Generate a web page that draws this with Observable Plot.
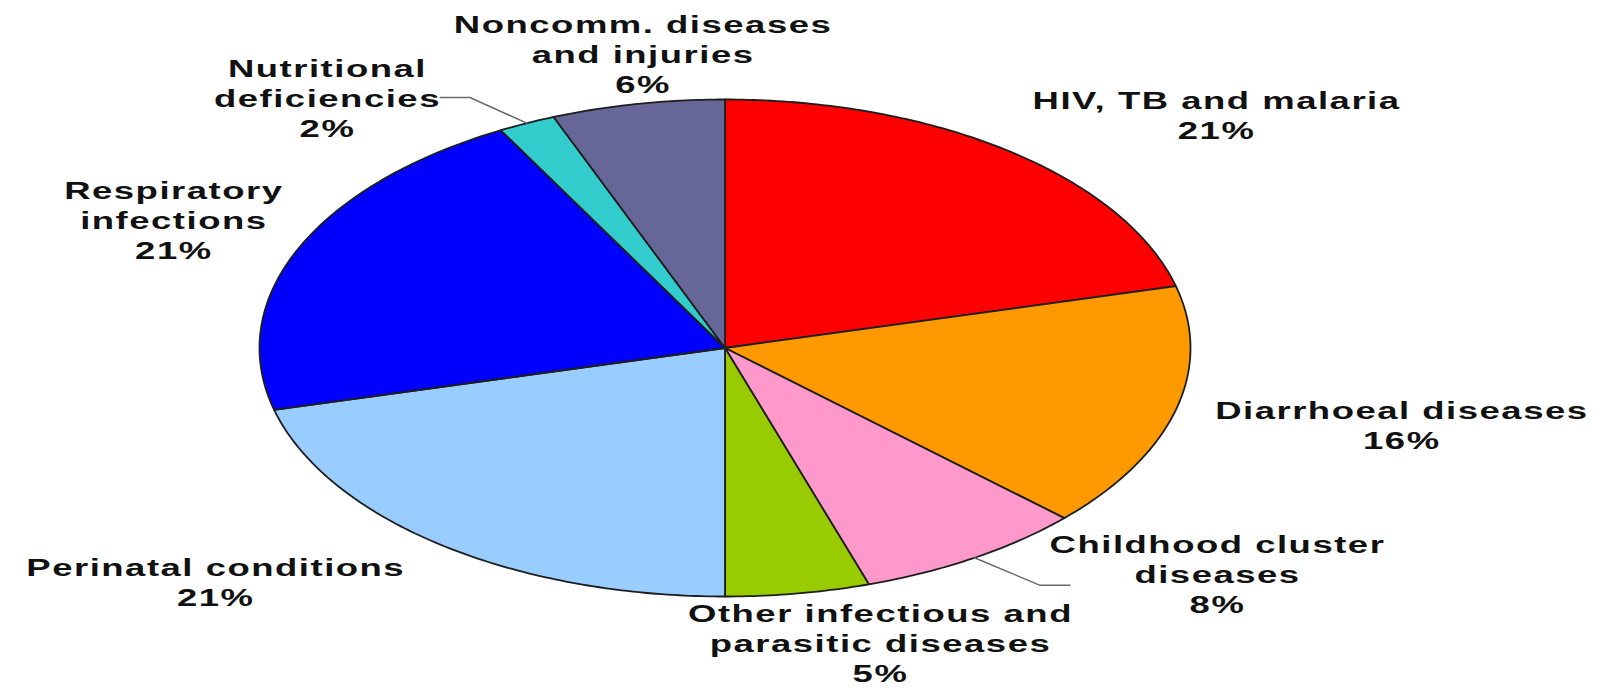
<!DOCTYPE html>
<html>
<head>
<meta charset="utf-8">
<script src="https://cdn.jsdelivr.net/npm/d3@7"></script>
<script src="https://cdn.jsdelivr.net/npm/@observablehq/plot@0.6"></script>
<style>
  html, body { margin: 0; padding: 0; background: #fff; }
  #chart text { letter-spacing: 1px; }
</style>
</head>
<body>
<div id="chart"></div>
<script>
// ---- data ----
const categories = [
  "HIV, TB and malaria",
  "Diarrhoeal diseases",
  "Childhood cluster\ndiseases",
  "Other infectious and\nparasitic diseases",
  "Perinatal conditions",
  "Respiratory\ninfections",
  "Nutritional\ndeficiencies",
  "Noncomm. diseases\nand injuries"
];
const values = [21, 16, 8, 5, 21, 21, 2, 6];
const colors = ["#ff0000", "#ff9900", "#ff99cc", "#99cc00", "#99ccff", "#0000ff", "#33cccc", "#666699"];

// ---- layout (label anchors in pie-unit coordinates) ----
const labelX = [1.056, 1.454, 1.058, 0.334, -1.094, -1.184, -0.854, -0.176];
const labelY = [0.939, -0.308, -0.907, -1.186, -0.939, 0.518, 1.008, 1.186];
// leader line elbows for the small slices (index -> two points)
const leaders = {
  6: [[-0.548, 1.008], [-0.612, 1.008]],
  2: [[0.677, -0.955], [0.741, -0.955]]
};

const arcs = d3.pie().sort(null).value(d => d)(values);

const slicePts = [];
arcs.forEach((a, i) => {
  slicePts.push({x: 0, y: 0, k: i, color: colors[i]});
  const n = Math.max(8, Math.ceil((a.endAngle - a.startAngle) * 80));
  for (let j = 0; j <= n; j++) {
    const t = a.startAngle + (a.endAngle - a.startAngle) * j / n;
    slicePts.push({x: Math.sin(t), y: Math.cos(t), k: i, color: colors[i]});
  }
});

const labels = categories.map((c, i) => ({
  text: c + "\n" + values[i] + "%",
  x: labelX[i], y: labelY[i]
}));

const leaderPts = [];
Object.entries(leaders).forEach(([i, pts]) => {
  const a = arcs[+i];
  const m = (a.startAngle + a.endAngle) / 2;
  leaderPts.push({x: Math.sin(m), y: Math.cos(m), k: i});
  pts.forEach(p => leaderPts.push({x: p[0], y: p[1], k: i}));
});

const chart = Plot.plot({
  width: 1605,
  height: 691,
  margin: 0,
  x: {domain: [-1, 1], range: [259, 1190], axis: null},
  y: {domain: [-1, 1], range: [596, 99], axis: null},
  color: {type: "identity"},
  marks: [
    Plot.line(slicePts, {
      x: "x", y: "y", z: "k", fill: "color",
      stroke: "#1e1e1e", strokeWidth: 1.8, strokeLinejoin: "round",
      curve: "linear-closed"
    }),
    Plot.line(leaderPts, {x: "x", y: "y", z: "k", stroke: "#6a6a6a", strokeWidth: 1.5}),
    Plot.text(labels, {
      x: "x", y: "y", text: "text",
      fontSize: 24, fontWeight: "bold", fontFamily: "Liberation Sans, Arial, sans-serif",
      fill: "#111111", lineHeight: 1.25, textAnchor: "middle", lineAnchor: "middle"
    })
  ]
});
document.getElementById("chart").appendChild(chart);

// stretch the label glyphs horizontally, as in the original picture
chart.querySelectorAll('g[aria-label="text"] text').forEach(t => {
  t.setAttribute("transform", (t.getAttribute("transform") || "") + " scale(1.52,1)");
});
</script>
</body>
</html>
